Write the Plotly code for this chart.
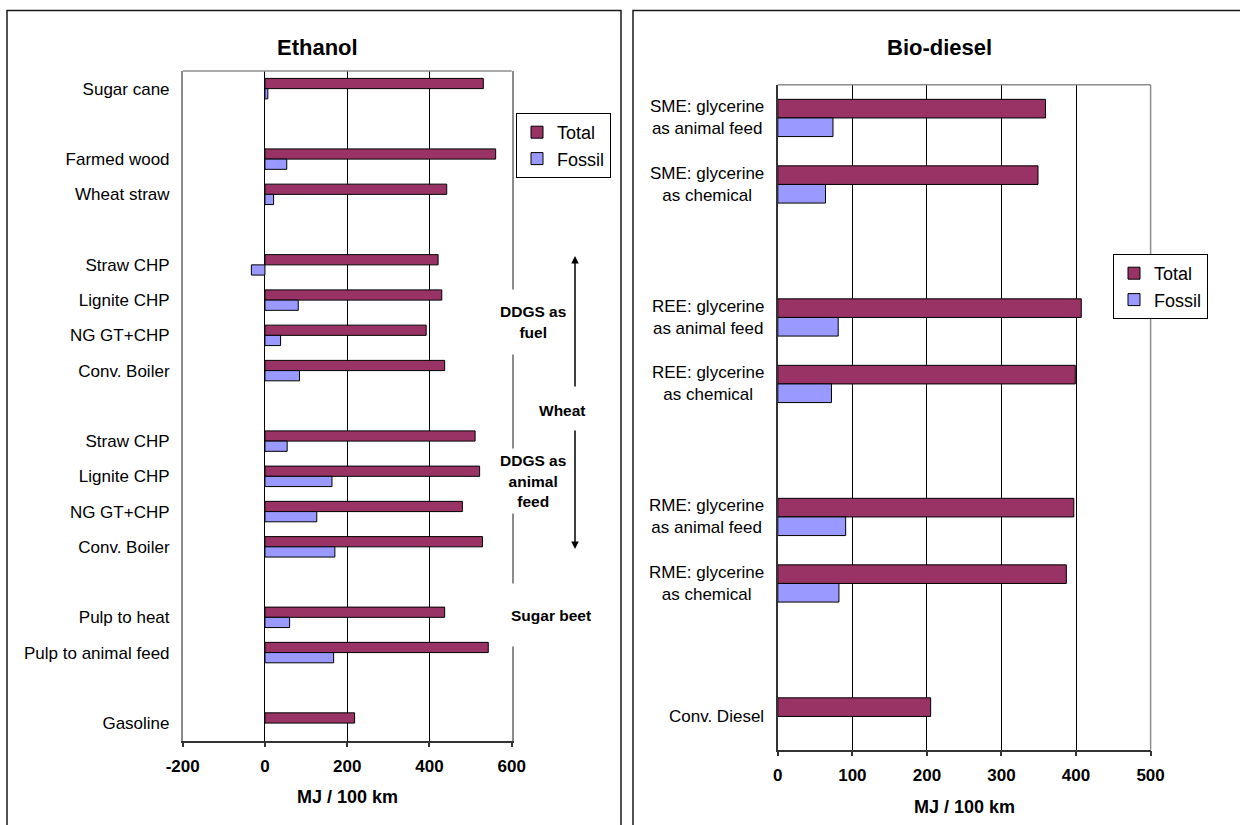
import plotly.graph_objects as go

# ---------------- data ----------------
eth_categories = ["Sugar cane", "", "Farmed wood", "Wheat straw", "",
                  "Straw CHP", "Lignite CHP", "NG GT+CHP", "Conv. Boiler", "",
                  "Straw CHP", "Lignite CHP", "NG GT+CHP", "Conv. Boiler", "",
                  "Pulp to heat", "Pulp to animal feed", "", "Gasoline"]
eth_total = [531, None, 561, 442, None, 421, 430, 392, 437, None,
             511, 522, 480, 529, None, 437, 543, None, 218]
eth_fossil = [7, None, 53, 21, None, -33, 81, 38, 84, None,
              54, 163, 126, 170, None, 60, 167, None, None]
eth_ticks = [-200, 0, 200, 400, 600]
eth_ticktext = ["-200", "0", "200", "400", "600"]

bd_categories = ["SME: glycerine<br>as animal feed", "SME: glycerine<br>as chemical", "",
                 "REE: glycerine<br>as animal feed", "REE: glycerine<br>as chemical", "",
                 "RME: glycerine<br>as animal feed", "RME: glycerine<br>as chemical", "",
                 "Conv. Diesel"]
bd_total = [359, 349, None, 407, 399, None, 397, 387, None, 205]
bd_fossil = [74, 64, None, 81, 72, None, 91, 82, None, None]
bd_ticks = [0, 100, 200, 300, 400, 500]
bd_ticktext = ["0", "100", "200", "300", "400", "500"]

series_names = ["Total", "Fossil"]
series_colors = ["#993366", "#9999FF"]

# ---------------- layout helpers ----------------
W, H = 1240, 825
FONT = "Liberation Sans, Arial, sans-serif"


def px(x):
    return x / W


def py(y):
    return 1 - y / H


eth_pos = list(range(len(eth_categories)))
bd_pos = list(range(len(bd_categories)))

fig = go.Figure()

# Ethanol bars
w1 = 0.29
for name, vals, color, off in [(series_names[0], eth_total, series_colors[0], -w1),
                               (series_names[1], eth_fossil, series_colors[1], 0)]:
    fig.add_trace(go.Bar(
        x=vals, y=eth_pos, orientation="h", name=name,
        marker=dict(color=color, line=dict(color="black", width=1)),
        width=w1, offset=off, xaxis="x", yaxis="y", legend="legend",
        hoverinfo="x+name",
    ))

# Bio-diesel bars
w2 = 0.28
for name, vals, color, off in [(series_names[0], bd_total, series_colors[0], -w2),
                               (series_names[1], bd_fossil, series_colors[1], 0)]:
    fig.add_trace(go.Bar(
        x=vals, y=bd_pos, orientation="h", name=name,
        marker=dict(color=color, line=dict(color="black", width=1)),
        width=w2, offset=off, xaxis="x2", yaxis="y2", legend="legend2",
        hoverinfo="x+name",
    ))

eth_tickvals = [p for p, c in zip(eth_pos, eth_categories) if c]
eth_ticklabels = [c for c in eth_categories if c]

tickfont = dict(family=FONT, size=17, color="black", weight="bold")

fig.update_layout(
    template="none",
    width=W, height=H,
    autosize=False,
    margin=dict(l=0, r=0, t=0, b=0, pad=0, autoexpand=False),
    paper_bgcolor="white", plot_bgcolor="white",
    font=dict(family=FONT, color="black"),
    barmode="overlay",
    showlegend=True,
    xaxis=dict(
        domain=[px(182.7), px(511.7)], range=[-200, 600],
        tickvals=eth_ticks, ticktext=eth_ticktext, tickfont=tickfont,
        ticks="outside", ticklen=5, tickwidth=1.5, tickcolor="#333333",
        showline=True, linecolor="#333333", linewidth=1.5,
        showgrid=True, gridcolor="black", gridwidth=1,
        zeroline=True, zerolinecolor="black", zerolinewidth=1,
        ticklabelstandoff=4, anchor="y", fixedrange=True, automargin=False,
    ),
    yaxis=dict(
        domain=[py(740.7), py(71)], range=[18.5, -0.5],
        tickvals=eth_tickvals, ticktext=eth_ticklabels,
        tickfont=dict(family=FONT, size=17, color="black"),
        ticks="", showline=True, linecolor="#8c8c8c", linewidth=1.5, mirror=True,
        showgrid=False, zeroline=False, ticklabelstandoff=8, anchor="x",
        fixedrange=True, automargin=False,
    ),
    xaxis2=dict(
        domain=[px(777.8), px(1150.6)], range=[0, 500],
        tickvals=bd_ticks, ticktext=bd_ticktext, tickfont=tickfont,
        ticks="outside", ticklen=5, tickwidth=1.5, tickcolor="#333333",
        showline=True, linecolor="#333333", linewidth=1.5,
        showgrid=True, gridcolor="black", gridwidth=1,
        zeroline=False, ticklabelstandoff=4, anchor="y2", fixedrange=True,
        automargin=False,
    ),
    yaxis2=dict(
        domain=[py(749.7), py(84.7)], range=[9.5, -0.5],
        showticklabels=False, ticks="",
        showline=True, linecolor="#333333", linewidth=1.5, mirror=False,
        showgrid=False, zeroline=False, anchor="x2", fixedrange=True,
        automargin=False,
    ),
    legend=dict(
        x=px(516), y=py(113), xanchor="left", yanchor="top",
        bgcolor="white", bordercolor="black", borderwidth=1,
        font=dict(family=FONT, size=18, color="black"),
        itemwidth=30, traceorder="normal",
    ),
    legend2=dict(
        x=px(1113), y=py(254), xanchor="left", yanchor="top",
        bgcolor="white", bordercolor="black", borderwidth=1,
        font=dict(family=FONT, size=18, color="black"),
        itemwidth=30, traceorder="normal",
    ),
)

shapes = []
# outer chart frames
shapes.append(dict(type="rect", xref="paper", yref="paper",
                   x0=px(7), x1=px(621), y0=-0.05, y1=py(10.5),
                   line=dict(color="#1a1a1a", width=1.5), layer="above"))
shapes.append(dict(type="rect", xref="paper", yref="paper",
                   x0=px(633), x1=1.05, y0=-0.05, y1=py(10.5),
                   line=dict(color="#1a1a1a", width=1.5), layer="above"))
# grey plot-area borders
shapes.append(dict(type="line", xref="x domain", yref="y domain",
                   x0=0, x1=1, y0=1, y1=1, line=dict(color="#8c8c8c", width=1.5)))
shapes.append(dict(type="line", xref="x2 domain", yref="y2 domain",
                   x0=0, x1=1, y0=1, y1=1, line=dict(color="#8c8c8c", width=1.5)))
shapes.append(dict(type="line", xref="x2 domain", yref="y2 domain",
                   x0=1, x1=1, y0=0, y1=1, line=dict(color="#8c8c8c", width=1.5)))
fig.update_layout(shapes=shapes)

ann = []
bold15 = dict(family=FONT, size=15.5, color="black")


def paper_text(txt, x, y, font, **kw):
    d = dict(text=txt, x=px(x), y=py(y), xref="paper", yref="paper",
             xanchor="center", yanchor="middle", showarrow=False, font=font)
    d.update(kw)
    return d


# titles
ann.append(paper_text("<b>Ethanol</b>", 317.5, 47, dict(family=FONT, size=22, color="black")))
ann.append(paper_text("<b>Bio-diesel</b>", 939.5, 47, dict(family=FONT, size=22, color="black")))
# axis titles
ann.append(paper_text("<b>MJ / 100 km</b>", 347, 797, dict(family=FONT, size=18, color="black")))
ann.append(paper_text("<b>MJ / 100 km</b>", 964, 807, dict(family=FONT, size=18, color="black")))
# group labels (Ethanol)
for txt, cx, cy, hgt in [("<b>DDGS as<br>fuel</b>", 532.6, 322.5, 64),
                         ("<b>DDGS as<br>animal<br>feed</b>", 532.6, 481, 64),
                         ("<b>Sugar beet</b>", 550.8, 614.5, 62)]:
    ann.append(paper_text(txt, cx, cy, bold15, bgcolor="white", height=hgt,
                          valign="middle", borderpad=0))
ann.append(paper_text("<b>Wheat</b>", 562.7, 410, bold15))
# arrows
ann.append(dict(text="", x=px(575), y=py(256), xref="paper", yref="paper",
                showarrow=True, ax=0, ay=132, axref="pixel", ayref="pixel",
                arrowhead=2, arrowsize=1, arrowwidth=1.5, arrowcolor="black", standoff=0))
ann.append(dict(text="", x=px(575), y=py(549), xref="paper", yref="paper",
                showarrow=True, ax=0, ay=-120, axref="pixel", ayref="pixel",
                arrowhead=2, arrowsize=1, arrowwidth=1.5, arrowcolor="black", standoff=0))
# bio-diesel category labels (centre-aligned two-line labels)
for p, c in zip(bd_pos, bd_categories):
    if c:
        ann.append(dict(text=c, x=px(765.5), y=p, xref="paper", yref="y2",
                        xanchor="right", yanchor="middle", align="center",
                        showarrow=False, font=dict(family=FONT, size=17, color="black")))
fig.update_layout(annotations=ann)

fig.write_html("out.html", config={"displayModeBar": False},
               post_script="document.body.style.margin='0';document.body.style.overflow='hidden';")
